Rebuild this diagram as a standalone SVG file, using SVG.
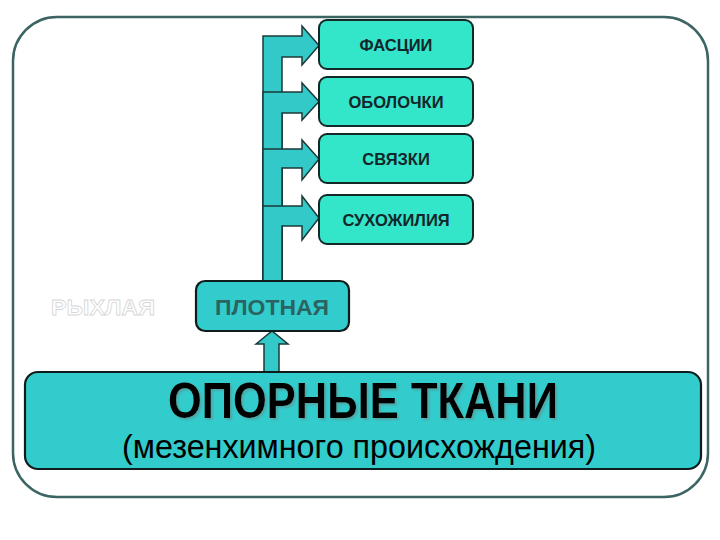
<svg xmlns="http://www.w3.org/2000/svg" width="720" height="540" viewBox="0 0 720 540">
<defs>
<style>
.frame{fill:#ffffff;stroke:#3b6462;stroke-width:2.5}
.leaf{fill:#33e5c9;stroke:#152828;stroke-width:2}
.teal{fill:#33cccc;stroke:#101c1c;stroke-width:2.2}
.arrow{fill:#33c9c9;stroke:#1a3a3a;stroke-width:1.5;stroke-linejoin:miter}
.lt{font-family:"Liberation Sans",Arial,sans-serif;font-weight:bold;font-size:16.5px;fill:#14262a;text-anchor:middle}
.mid{font-family:"Liberation Sans",Arial,sans-serif;font-weight:bold;font-size:22px;text-anchor:middle}
.big{font-family:"Liberation Sans",Arial,sans-serif;font-weight:bold;font-size:50px;fill:#000;text-anchor:middle}
.sub{font-family:"Liberation Sans",Arial,sans-serif;font-size:33px;fill:#000;text-anchor:middle}
</style>
<filter id="sh" x="-5%" y="-20%" width="110%" height="140%">
<feDropShadow dx="2" dy="2" stdDeviation="0.8" flood-color="#5f8f8f" flood-opacity="0.6"/>
</filter>
</defs>
<rect class="frame" x="13" y="17" width="695" height="480" rx="44" ry="44"/>
<g id="connectors">
<polygon class="arrow" points="263,285 263,36 302,36 302,26 319,45.5 302,65 302,57 282,57 282,285"/>
<polygon class="arrow" points="263,285 263,92 302,92 302,83 319,101.5 302,120 302,113 282,113 282,285"/>
<polygon class="arrow" points="263,285 263,149 302,149 302,140 319,159 302,180 302,168 282,168 282,285"/>
<polygon class="arrow" points="263,285 263,206 302,206 302,196 319,218 302,240 302,226 282,226 282,285"/>
<polygon class="arrow" points="264,375 264,344 256,344 272,331 288,344 279,344 279,375"/>
</g>
<g id="fascii">
<rect class="leaf" x="319" y="20" width="154" height="49" rx="8"/>
<text class="lt" x="396" y="50.5">ФАСЦИИ</text>
</g>
<g id="obolochki">
<rect class="leaf" x="319" y="77" width="154" height="49" rx="8"/>
<text class="lt" x="396" y="107.5">ОБОЛОЧКИ</text>
</g>
<g id="svyazki">
<rect class="leaf" x="319" y="134" width="154" height="49" rx="8"/>
<text class="lt" x="396" y="164.5">СВЯЗКИ</text>
</g>
<g id="suhozhiliya">
<rect class="leaf" x="319" y="195" width="154" height="49" rx="8"/>
<text class="lt" x="396" y="225.5">СУХОЖИЛИЯ</text>
</g>
<g id="ryhlaya">
<text class="mid" x="103" y="315" fill="#ffffff" stroke="#d6d6d6" stroke-width="0.8" textLength="104" lengthAdjust="spacingAndGlyphs">РЫХЛАЯ</text>
</g>
<g id="plotnaya">
<rect class="teal" x="196" y="281" width="153" height="50" rx="9"/>
<text class="mid" x="272" y="315" fill="#2b6363" textLength="114" lengthAdjust="spacingAndGlyphs">ПЛОТНАЯ</text>
</g>
<g id="opornye">
<rect class="teal" x="25" y="372" width="676" height="97" rx="13"/>
<text class="big" x="363" y="418" textLength="390" lengthAdjust="spacingAndGlyphs" filter="url(#sh)">ОПОРНЫЕ ТКАНИ</text>
<text class="sub" x="359" y="458" textLength="474" lengthAdjust="spacingAndGlyphs">(мезенхимного происхождения)</text>
</g>
</svg>
